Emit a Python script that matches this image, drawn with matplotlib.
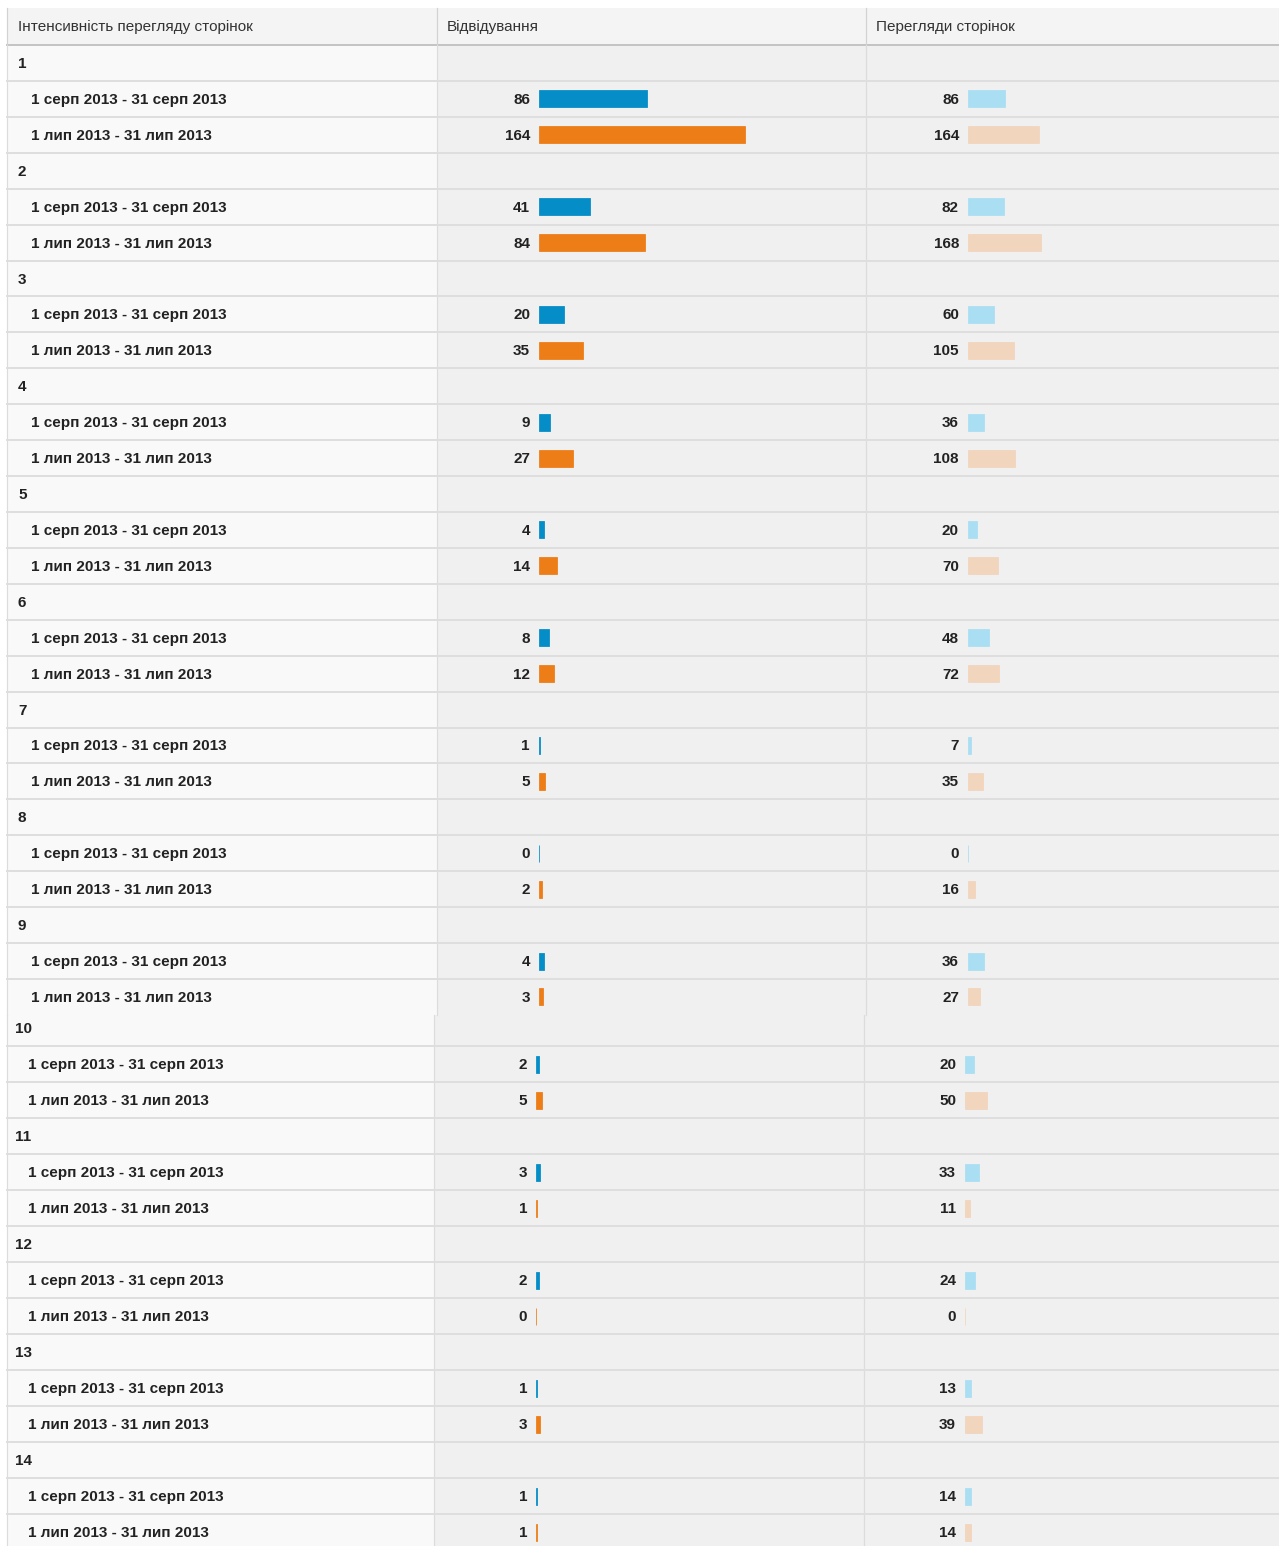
import numpy as np
import matplotlib
matplotlib.use("Agg")
import matplotlib.pyplot as plt

plt.rcParams['font.family'] = ['Liberation Sans', 'DejaVu Sans']

# data
groups = [str(i) for i in range(1, 15)]
period_aug = "1 серп 2013 - 31 серп 2013"
period_jul = "1 лип 2013 - 31 лип 2013"
visits_aug = [86, 41, 20, 9, 4, 8, 1, 0, 4, 2, 3, 2, 1, 1]
visits_jul = [164, 84, 35, 27, 14, 12, 5, 2, 3, 5, 1, 0, 3, 1]
views_aug = [86, 82, 60, 36, 20, 48, 7, 0, 36, 20, 33, 24, 13, 14]
views_jul = [164, 168, 105, 108, 70, 72, 35, 16, 27, 50, 11, 0, 39, 14]
headers = ["Інтенсивність перегляду сторінок", "Відвідування", "Перегляди сторінок"]

W, H = 1279, 1546
fig = plt.figure(figsize=(W / 100, H / 100), dpi=100)
ax = fig.add_axes([0, 0, 1, 1])
ax.set_xlim(0, W)
ax.set_ylim(H, 0)
ax.axis('off')

c_blue, c_orange = '#058dc7', '#ed7e17'
c_lblue, c_lorange = '#aadff3', '#f2d5bd'
txt = '#222222'
line_c = '#dedede'
px = 0.72  # points per pixel
fs = 11

visit_scale = 1.256   # px per visit
view_scale = 0.435    # px per pageview

# the screenshot is stitched from two pieces: groups 1-9 and groups 10-14
parts = [
    dict(idx=range(0, 9), top=45, first_c=63, pitch=35.92, bottom=1015, left=7,
         sep1=437, sep2=866, header=True),
    dict(idx=range(9, 14), top=1015, first_c=1028, pitch=36, bottom=H, left=7,
         sep1=434, sep2=864, header=False),
]

for p in parts:
    top, bottom, left = p['top'], p['bottom'], p['left']
    s1, s2 = p['sep1'], p['sep2']
    pitch = p['pitch']
    shift = s1 - 437
    if p['header']:
        ax.add_patch(plt.Rectangle((left, 8), W - left, 37, color='#f4f4f4', lw=0))
        ax.plot([left, W], [45, 45], color='#c4c4c4', lw=2 * px)
        for xs in (s1, s2):
            ax.plot([xs, xs], [8, 45], color='#d2d2d2', lw=1.2 * px)
        ax.plot([left, left], [8, 45], color='#d2d2d2', lw=1.2 * px)
        ax.text(18, 27, headers[0], fontsize=fs, color='#333333', va='center')
        ax.text(s1 + 10, 27, headers[1], fontsize=fs, color='#333333', va='center')
        ax.text(s2 + 10, 27, headers[2], fontsize=fs, color='#333333', va='center')
    # backgrounds
    ax.add_patch(plt.Rectangle((left, top), s1 - left, bottom - top, color='#f9f9f9', lw=0))
    ax.add_patch(plt.Rectangle((s1, top), W - s1, bottom - top, color='#f0f0f0', lw=0))
    for xs in (s1, s2):
        ax.plot([xs, xs], [top, bottom], color='#dcdcdc', lw=1.2 * px)
    ax.plot([left, left], [top, bottom], color='#dcdcdc', lw=1.2 * px)

    rows = []
    for g in p['idx']:
        rows.append(('g', g))
        rows.append(('a', g))
        rows.append(('j', g))
    centers = [p['first_c'] + pitch * k for k in range(len(rows))]
    for k, (kind, g) in enumerate(rows):
        yc = centers[k]
        yb = yc + pitch / 2
        if yb < bottom - 4:
            ax.plot([left, W], [yb, yb], color=line_c, lw=2 * px)
        if kind == 'g':
            ax.text(18 + shift, yc + 1, groups[g], fontsize=fs, fontweight='bold',
                    color=txt, va='center')
        else:
            label = period_aug if kind == 'a' else period_jul
            v = visits_aug[g] if kind == 'a' else visits_jul[g]
            pv = views_aug[g] if kind == 'a' else views_jul[g]
            ax.text(31 + shift, yc + 1, label, fontsize=fs, fontweight='bold',
                    color=txt, va='center')
            ax.text(530 + shift, yc + 1, str(v), fontsize=fs, fontweight='bold',
                    color=txt, va='center', ha='right')
            ax.text(959 + shift, yc + 1, str(pv), fontsize=fs, fontweight='bold',
                    color=txt, va='center', ha='right')

    # bar axes in data units, one per metric column
    ys = np.array([centers[k] for k, (kind, g) in enumerate(rows) if kind != 'g'])
    v_vals = []
    pv_vals = []
    v_cols = []
    pv_cols = []
    for kind, g in rows:
        if kind == 'a':
            v_vals.append(visits_aug[g]); pv_vals.append(views_aug[g])
            v_cols.append(c_blue); pv_cols.append(c_lblue)
        elif kind == 'j':
            v_vals.append(visits_jul[g]); pv_vals.append(views_jul[g])
            v_cols.append(c_orange); pv_cols.append(c_lorange)
    for x0, x1, scale, vals, cols in ((539 + shift, s2 - 2, visit_scale, v_vals, v_cols),
                                       (968 + shift, W, view_scale, pv_vals, pv_cols)):
        bax = fig.add_axes([x0 / W, 1 - bottom / H, (x1 - x0) / W, (bottom - top) / H])
        bax.set_xlim(0, (x1 - x0) / scale)
        bax.set_ylim(bottom, top)
        bax.axis('off')
        bax.patch.set_alpha(0)
        bax.barh(ys, vals, height=17, color=cols, edgecolor=cols, linewidth=0.8 * px)

fig.savefig('out.png', dpi=100, facecolor='white')
